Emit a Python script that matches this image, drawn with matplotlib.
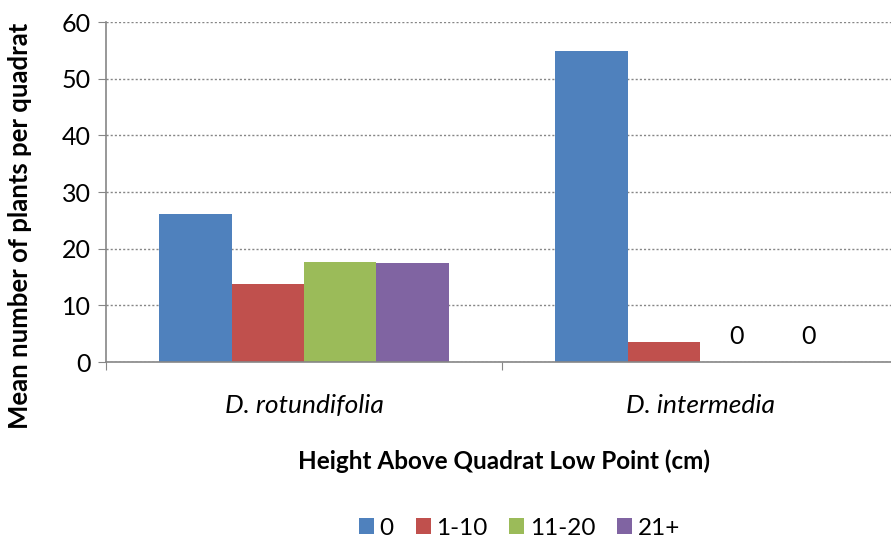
import numpy as np
import matplotlib.pyplot as plt

plt.rcParams['font.family'] = ['Lato', 'DejaVu Sans']

species = ['D. rotundifolia', 'D. intermedia']
heights = ['0', '1-10', '11-20', '21+']
h0 = [26.2, 54.9]
h1_10 = [13.8, 3.6]
h11_20 = [17.7, 0]
h21 = [17.5, 0]
colors = ['#4F81BD', '#C0504D', '#9BBB59', '#8064A2']

fig = plt.figure(figsize=(8.91, 5.4), dpi=100)
ax = fig.add_axes([0.119, 0.3296, 0.889, 0.6296])

x = np.arange(len(species))
w = 0.1826
series = [h0, h1_10, h11_20, h21]
for i, (vals, c, lab) in enumerate(zip(series, colors, heights)):
    pos = x + (i - 1.5) * w
    ax.bar(pos, vals, w, color=c, label=lab, zorder=3)
    for p, v in zip(pos, vals):
        if v == 0:
            ax.text(p, 4.5, '0', ha='center', va='center', fontsize=18)

ax.set_xlim(-0.5, 1.5)
ax.set_ylim(0, 60)
ax.set_yticks(range(0, 61, 10))
ax.set_xticks([-0.5, 0.5, 1.5], minor=False)
ax.set_xticklabels(['', '', ''])
ax.set_xticks(x, minor=True)
ax.set_xticklabels(species, minor=True, fontstyle='italic', fontsize=19)
ax.tick_params(axis='x', which='minor', length=0, pad=23)
ax.tick_params(axis='x', which='major', length=6, color='#868686')
ax.tick_params(axis='y', length=6, color='#868686', labelsize=18, pad=5)

ax.yaxis.grid(True, linestyle=(0, (1.5, 1.5)), color='#868686', linewidth=1)
for s in ['top', 'right']:
    ax.spines[s].set_visible(False)
for s in ['left', 'bottom']:
    ax.spines[s].set_color('#868686')
    ax.spines[s].set_linewidth(1.2)
ax.spines['bottom'].set_zorder(4)

fig.text(0.0224, 0.581, 'Mean number of plants per quadrat', rotation=90,
         ha='center', va='center', fontweight='bold', fontsize=18.5)
fig.text(0.566, 0.146, 'Height Above Quadrat Low Point (cm)', ha='center', va='center',
         fontweight='bold', fontsize=17.5)

fig.legend(loc='center', bbox_to_anchor=(0.583, 0.022), ncol=4, frameon=False,
           fontsize=17.5, handlelength=0.62, handleheight=0.62, handletextpad=0.22,
           columnspacing=0.9)

plt.savefig('out.png')
